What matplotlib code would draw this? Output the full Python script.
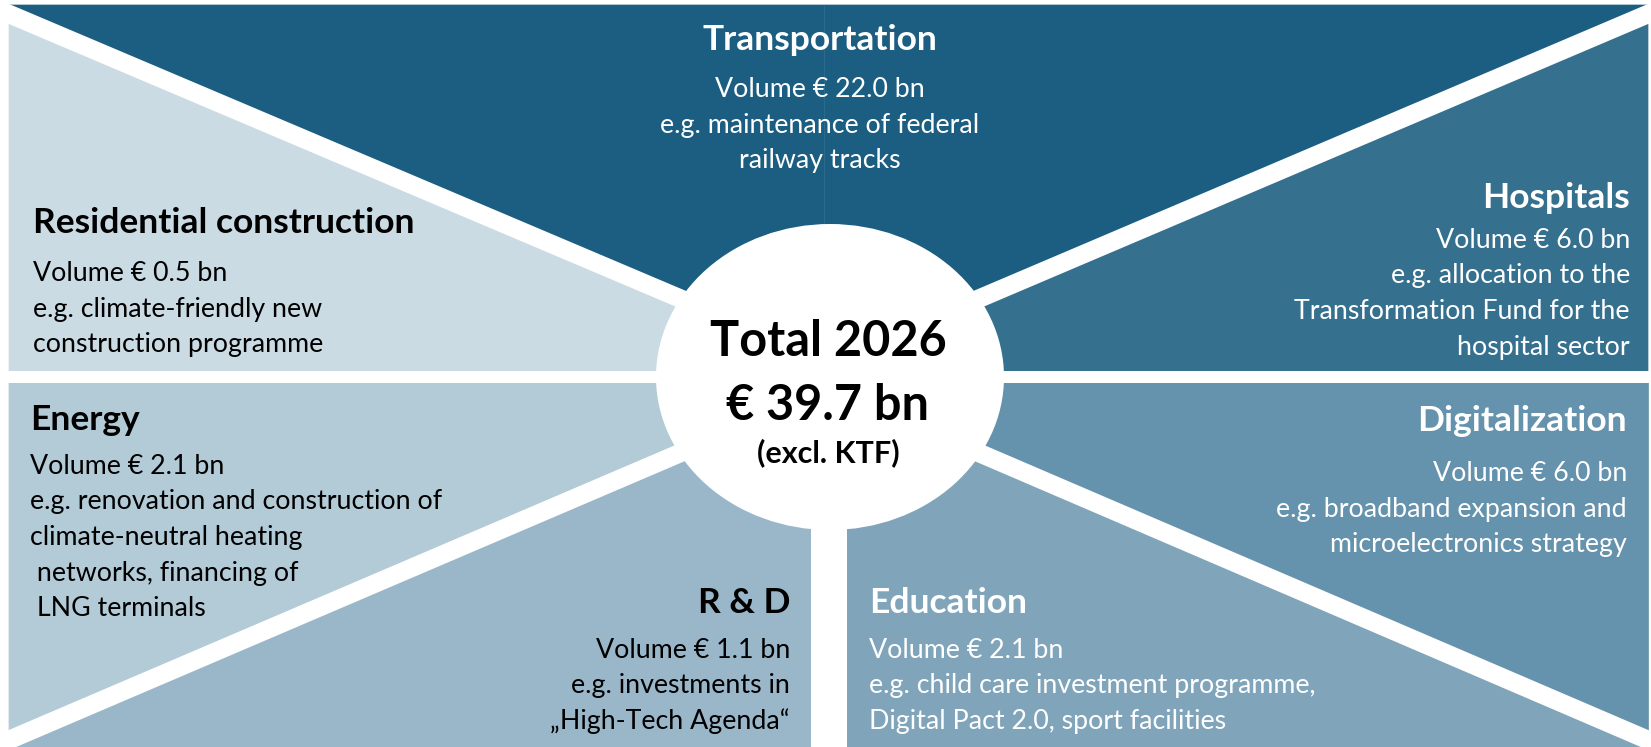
import matplotlib.pyplot as plt
from matplotlib.patches import Polygon, Ellipse

plt.rcParams['font.family'] = ['Lato', 'DejaVu Sans']

# --- data ---
categories = ["Transportation", "Hospitals", "Digitalization", "Education",
              "R & D", "Energy", "Residential construction"]
volumes = [22.0, 6.0, 6.0, 2.1, 1.1, 2.1, 0.5]
examples = [
    ["e.g. maintenance of federal", "railway tracks"],
    ["e.g. allocation to the", "Transformation Fund for the", "hospital sector"],
    ["e.g. broadband expansion and", "microelectronics strategy"],
    ["e.g. child care investment programme,", "Digital Pact 2.0, sport facilities"],
    ["e.g. investments in", "„High-Tech Agenda“"],
    ["e.g. renovation and construction of", "climate-neutral heating",
     " networks, financing of", " LNG terminals"],
    ["e.g. climate-friendly new", "construction programme"],
]
total_year = 2026
total_volume = 39.7
total_note = "(excl. KTF)"

# --- layout (pixel coords, y pointing down) ---
W, H = 1651, 747
X0, X1, Y0, Y1 = 9, 1648, 5, 747
CX, CY = 830, 377
UP_Y, LO_Y = 362, 389   # where the upper / lower diagonals meet the centre

fills = ["#1b5e82", "#35708f", "#6592ac", "#80a5bb", "#9ab7ca", "#b3cad7", "#cbdbe4"]
txt_col = ["white", "white", "white", "white", "black", "black", "black"]

# sector shapes
shapes = [
    [(X0, Y0), (X1, Y0), (X1, 14), (CX, UP_Y), (X0, 14)],
    [(CX, UP_Y), (X1, 14), (X1, CY), (CX, CY)],
    [(CX, LO_Y), (CX, CY), (X1, CY), (X1, 740)],
    [(CX, Y1), (CX, LO_Y), (X1, 740), (X1, Y1)],
    [(X0, 740), (CX, LO_Y), (CX, Y1), (X0, Y1)],
    [(X0, CY), (CX, CY), (CX, LO_Y), (X0, 740)],
    [(X0, 14), (CX, UP_Y), (CX, CY), (X0, CY)],
]

# (x, title baseline, alignment, first body baseline)
text_pos = [
    (820, 50, 'center', 97),
    (1630, 208, 'right', 248),
    (1627, 431, 'right', 481),
    (869, 613, 'left', 658),
    (790, 613, 'right', 658),
    (30, 430, 'left', 474),
    (33, 233, 'left', 281),
]
LINE = 35.5
PX = 72 / 100   # pixel -> point


def band(p, q, width_px, ext=40):
    # white separating band from p (outer edge) to q, extended past the outer edge
    dx, dy = p[0] - q[0], p[1] - q[1]
    n = (dx * dx + dy * dy) ** 0.5
    p2 = (p[0] + dx / n * ext, p[1] + dy / n * ext)
    ax.plot([p2[0], q[0]], [p2[1], q[1]], color='white', lw=width_px * PX,
            solid_capstyle='butt', zorder=3)


fig = plt.figure(figsize=(W / 100, H / 100), dpi=100)
ax = fig.add_axes([0, 0, 1, 1])
ax.set_xlim(0, W)
ax.set_ylim(H, 0)
ax.axis('off')

for pts, c in zip(shapes, fills):
    ax.add_patch(Polygon(pts, closed=True, fc=c, ec=c, lw=0.5, zorder=1))

# faint seam in the top sector
ax.plot([824, 824], [Y0, CY], color='#2a6a8d', lw=0.8, zorder=2)

# white bands
band((X0, 14), (CX, UP_Y), 18.5)
band((X1, 14), (CX, UP_Y), 18.5)
band((X0, 740), (CX, LO_Y), 18.5)
band((X1, 740), (CX, LO_Y), 18.5)
ax.plot([0, W], [CY, CY], color='white', lw=12 * PX, solid_capstyle='butt', zorder=3)
ax.plot([829, 829], [CY, H], color='white', lw=36 * PX, solid_capstyle='butt', zorder=3)

ax.add_patch(Ellipse((CX, CY), 348, 306, fc='white', ec='none', zorder=4))

# sector texts
for i, name in enumerate(categories):
    x, ty, ha, by = text_pos[i]
    ax.text(x, ty, name, ha=ha, va='baseline', fontsize=25.5, fontweight='bold',
            color=txt_col[i], zorder=5)
    lines = ["Volume € %.1f bn" % volumes[i]] + examples[i]
    for k, s in enumerate(lines):
        ax.text(x, by + k * LINE, s, ha=ha, va='baseline', fontsize=19.3,
                color=txt_col[i], zorder=5)

# centre
ax.text(CX - 2, 356, "Total %d" % total_year, ha='center', va='baseline',
        fontsize=35, fontweight='bold', zorder=5)
ax.text(CX - 2, 420, "€ %.1f bn" % total_volume, ha='center', va='baseline',
        fontsize=35, fontweight='bold', zorder=5)
ax.text(CX - 2, 462, total_note, ha='center', va='baseline',
        fontsize=22, fontweight='bold', zorder=5)

fig.savefig('out.png', dpi=100)
